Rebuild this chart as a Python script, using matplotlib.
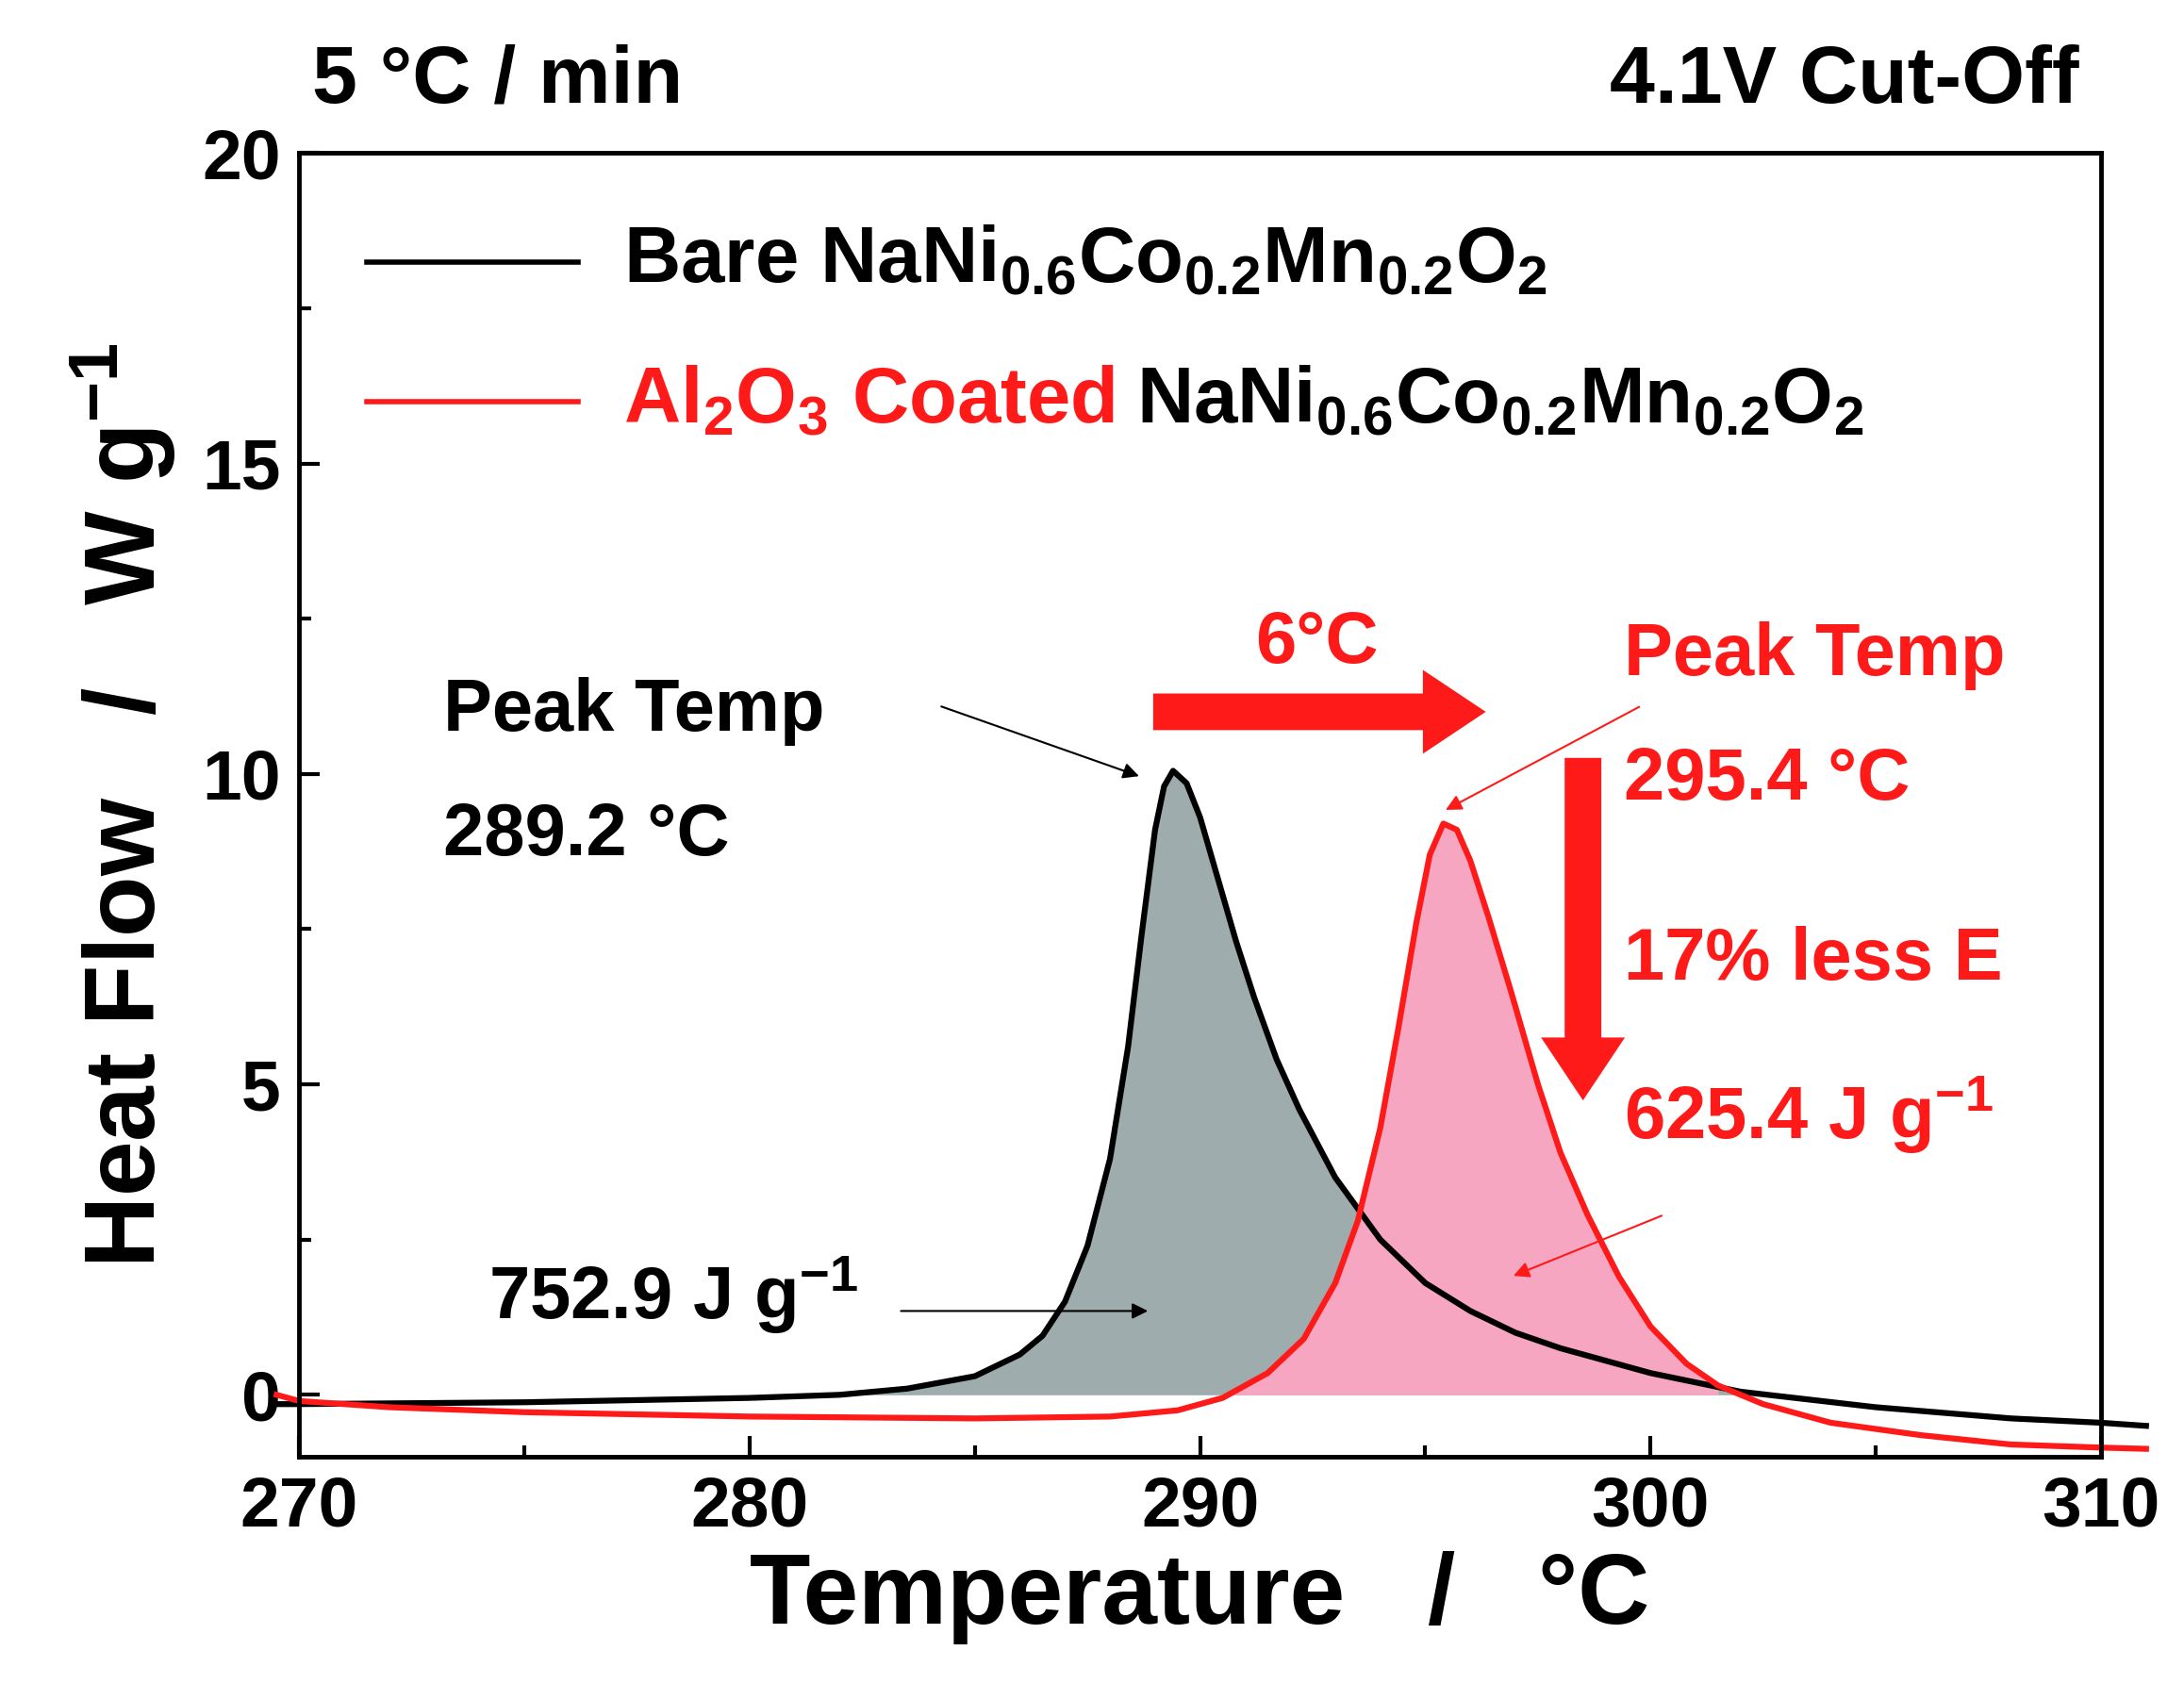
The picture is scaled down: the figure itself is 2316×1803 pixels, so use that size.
import matplotlib
matplotlib.use("Agg")
import matplotlib.pyplot as plt
import numpy as np

plt.rcParams.update({
    "font.family": "Liberation Sans", "font.weight": "bold",
    "axes.labelweight": "bold",
    "mathtext.fontset": "custom", "mathtext.rm": "Liberation Sans:bold",
    "mathtext.it": "Liberation Sans:bold", "mathtext.bf": "Liberation Sans:bold",
    "mathtext.default": "rm",
})

bare_T = [269.5, 270, 275, 280, 282, 283.5, 285, 286, 286.5, 287, 287.5, 288, 288.4, 288.7, 289.0, 289.2,
          289.4, 289.7, 290.0, 290.4, 290.8, 291.2, 291.7, 292.2, 293, 294, 295, 296, 297, 298, 300, 302,
          305, 308, 310, 311]
bare_H = [-0.15, -0.15, -0.12, -0.05, 0.0, 0.1, 0.3, 0.65, 0.95, 1.5, 2.4, 3.8, 5.6, 7.4, 9.1, 9.8,
          10.05, 9.85, 9.3, 8.3, 7.3, 6.4, 5.4, 4.6, 3.5, 2.5, 1.8, 1.35, 1.0, 0.75, 0.35, 0.05,
          -0.2, -0.38, -0.45, -0.5]
coat_T = [269.5, 270, 272, 275, 280, 285, 288, 289.5, 290.5, 291.5, 292.3, 293, 293.5, 294, 294.4, 294.8,
          295.1, 295.4, 295.7, 296.0, 296.4, 296.9, 297.5, 298, 298.6, 299.3, 300, 300.8, 301.5, 302.5,
          304, 306, 308, 310, 311]
coat_H = [0.0, -0.1, -0.2, -0.28, -0.35, -0.38, -0.35, -0.25, -0.05, 0.35, 0.9, 1.8, 2.8, 4.3, 5.9, 7.6,
          8.7, 9.2, 9.1, 8.6, 7.7, 6.5, 5.0, 3.9, 2.9, 1.9, 1.1, 0.5, 0.15, -0.15,
          -0.45, -0.65, -0.8, -0.85, -0.87]

fig = plt.figure(figsize=(23.16, 18.03), dpi=100)
ax = fig.add_axes([0.137, 0.143, 0.825, 0.767])
ax.set_xlim(270, 310)
ax.set_ylim(-1.0, 20)

bT = np.array(bare_T); bH = np.array(bare_H)
cT = np.array(coat_T); cH = np.array(coat_H)
mb = (bT >= 282) & (bT <= 302)
ax.fill_between(bT[mb], 0, bH[mb], color="#9eacae", lw=0)
mc = (cT >= 290.5) & (cT <= 302)
ax.fill_between(cT[mc], 0, cH[mc], color="#f6a6c0", lw=0)
ax.plot(bT, bH, color="black", lw=4.5, clip_on=False, solid_joinstyle="round")
ax.plot(cT, cH, color="#ff1a1a", lw=4.5, clip_on=False, solid_joinstyle="round")

for s in ax.spines.values():
    s.set_linewidth(3.5)
ax.set_xticks([270, 280, 290, 300, 310])
ax.set_yticks([0, 5, 10, 15, 20])
ax.set_xticks(np.arange(270, 311, 5), minor=True)
ax.set_yticks(np.arange(0, 20.1, 2.5), minor=True)
ax.tick_params(which="both", direction="in", width=3, labelsize=54, pad=14)
ax.tick_params(which="major", length=16)
ax.tick_params(which="minor", length=9)
ax.set_xlabel("Temperature   /   °C", fontsize=76, labelpad=8)
ax.set_ylabel("Heat Flow   /   W g$^{-1}$", fontsize=76, labelpad=18)

fig.text(0.143, 0.952, "5 °C / min", fontsize=62, va="center")
fig.text(0.952, 0.952, "4.1V Cut-Off", fontsize=62, va="center", ha="right")

# legend
ax.plot([271.5, 276.2], [18.25, 18.25], color="black", lw=4)
ax.plot([271.5, 276.2], [16.0, 16.0], color="#ff1a1a", lw=4)
ax.text(277.2, 18.25, "Bare NaNi$_{0.6}$Co$_{0.2}$Mn$_{0.2}$O$_{2}$", fontsize=60, va="center")
t1 = ax.text(277.2, 16.0, "Al$_2$O$_3$ Coated", fontsize=60, va="center", color="#ff1a1a")
ax.annotate(" NaNi$_{0.6}$Co$_{0.2}$Mn$_{0.2}$O$_{2}$", xy=(1, 0), xycoords=t1, fontsize=60,
            va="bottom", ha="left", color="black")

# annotations
ax.text(273.2, 11.0, "Peak Temp", fontsize=56, va="center")
ax.text(273.2, 9.0, "289.2 °C", fontsize=56, va="center")
ax.annotate("", xy=(288.7, 9.95), xytext=(284.2, 11.1),
            arrowprops=dict(arrowstyle="-|>", color="black", lw=1.5, mutation_scale=25))
ax.text(274.2, 1.6, "752.9 J g$^{-1}$", fontsize=56, va="center")
ax.annotate("", xy=(288.9, 1.35), xytext=(283.3, 1.35),
            arrowprops=dict(arrowstyle="-|>", color="black", lw=1.5, mutation_scale=25))

red = "#ff1a1a"
ax.text(292.6, 12.1, "6°C", fontsize=56, va="center", ha="center", color=red)
ax.annotate("", xy=(296.4, 11.0), xytext=(288.9, 11.0),
            arrowprops=dict(arrowstyle="simple,head_width=1.6,head_length=1.2,tail_width=0.7",
                            color=red, mutation_scale=40, lw=0))
ax.annotate("", xy=(298.5, 4.7), xytext=(298.5, 10.3),
            arrowprops=dict(arrowstyle="simple,head_width=1.6,head_length=1.2,tail_width=0.7",
                            color=red, mutation_scale=40, lw=0))
ax.text(299.4, 11.9, "Peak Temp", fontsize=56, va="center", color=red)
ax.text(299.4, 9.9, "295.4 °C", fontsize=56, va="center", color=red)
ax.text(299.4, 7.0, "17% less E", fontsize=56, va="center", color=red)
ax.text(299.4, 4.5, "625.4 J g$^{-1}$", fontsize=56, va="center", color=red)
ax.annotate("", xy=(295.4, 9.4), xytext=(299.8, 11.1),
            arrowprops=dict(arrowstyle="-|>", color=red, lw=1.5, mutation_scale=25))
ax.annotate("", xy=(296.9, 1.9), xytext=(300.3, 2.9),
            arrowprops=dict(arrowstyle="-|>", color=red, lw=1.5, mutation_scale=25))

fig.savefig("out.png", dpi=100)
